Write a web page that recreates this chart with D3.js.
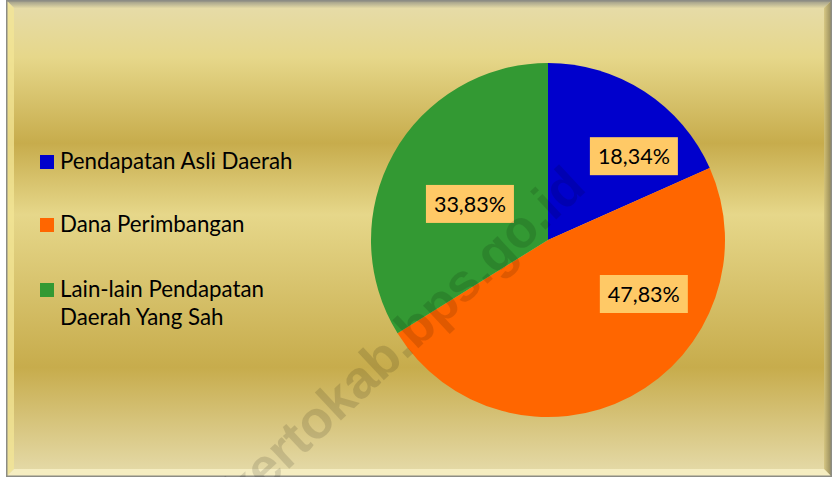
<!DOCTYPE html>
<html>
<head>
<meta charset="utf-8">
<script src="https://cdn.jsdelivr.net/npm/d3@7"></script>
<style>
  html, body { margin: 0; padding: 0; background: #fff; }
  svg { display: block; }
</style>
</head>
<body>
<svg id="chart" width="832" height="477"></svg>
<script>
// data
var categories = ["Pendapatan Asli Daerah", "Dana Perimbangan", "Lain-lain Pendapatan Daerah Yang Sah"];
var legendLines = [["Pendapatan Asli Daerah"], ["Dana Perimbangan"], ["Lain-lain Pendapatan", "Daerah Yang Sah"]];
var shares = [18.34, 47.83, 33.83];
var colors = ["#0000CC", "#FF6600", "#339933"];

// where excel dropped the labels (angle from 12 o'clock in deg, distance from centre)
var labelSpots = [[45.7, 120], [119.4, 110], [294.8, 86]];

var W = 832, H = 477;
var svg = d3.select("#chart");
var defs = svg.append("defs");

// gold preset background
var bg = defs.append("linearGradient").attr("id", "gold")
	.attr("x1", 0).attr("y1", 0).attr("x2", 0).attr("y2", 1);
[[0, "#E6DCAC"], [0.12, "#E6D78A"], [0.30, "#C7AC4C"], [0.45, "#E6D78A"], [0.77, "#C7AC4C"], [1, "#E6DCAC"]]
	.forEach(function (s) { bg.append("stop").attr("offset", s[0]).attr("stop-color", s[1]); });

var topG = defs.append("linearGradient").attr("id", "bevTop")
	.attr("x1", 0).attr("y1", 0).attr("x2", 0).attr("y2", 1);
topG.append("stop").attr("offset", 0).attr("stop-color", "#8a8a80");
topG.append("stop").attr("offset", 1).attr("stop-color", "#e2d8a4");

var rightG = defs.append("linearGradient").attr("id", "bevRight")
	.attr("x1", 0).attr("y1", 0).attr("x2", 1).attr("y2", 0);
rightG.append("stop").attr("offset", 0).attr("stop-color", "#d2c27c");
rightG.append("stop").attr("offset", 1).attr("stop-color", "#7c7248");

var x0 = 6, x1 = W, y0 = 0, y1 = H, b = 8;

svg.append("rect")
	.attr("x", x0).attr("y", y0).attr("width", x1 - x0).attr("height", y1 - y0)
	.attr("fill", "url(#gold)");

// bevel edges
function poly(pts, fill, op) {
	svg.append("path")
		.attr("d", "M" + pts.map(function (p) { return p.join(","); }).join("L") + "Z")
		.attr("fill", fill).attr("opacity", op);
}
poly([[x0, y0], [x1, y0], [x1 - b, y0 + b], [x0 + b, y0 + b]], "url(#bevTop)", 0.9);
poly([[x0, y0], [x0 + b, y0 + b], [x0 + b, y1 - b], [x0, y1]], "#F3E596", 0.75);
poly([[x1, y0], [x1 - b, y0 + b], [x1 - b, y1 - b], [x1, y1]], "url(#bevRight)", 0.8);
poly([[x0, y1], [x0 + b, y1 - b], [x1 - b, y1 - b], [x1, y1]], "#F8F0C6", 0.85);
svg.append("rect")
	.attr("x", x0 + 0.75).attr("y", 0.75).attr("width", x1 - x0 - 1.5).attr("height", H - 1.5)
	.attr("fill", "none").attr("stroke", "#8c8c84").attr("stroke-width", 1.5);

// pie
var cx = 548, cy = 240, r = 177;
var pie = d3.pie().sort(null).value(function (d) { return d; });
var arc = d3.arc().innerRadius(0).outerRadius(r);
var arcs = pie(shares);

var g = svg.append("g").attr("transform", "translate(" + cx + "," + cy + ")");
g.selectAll("path.slice")
	.data(arcs)
	.enter().append("path")
	.attr("class", "slice")
	.attr("d", arc)
	.attr("fill", function (d, i) { return colors[i]; });

var fmt = function (v) { return d3.format(".2f")(v).replace(".", ",") + "%"; };
var fontFam = "Lato, 'Open Sans', sans-serif";

var lab = g.selectAll("g.lab")
	.data(arcs)
	.enter().append("g")
	.attr("class", "lab")
	.attr("transform", function (d, i) {
		var a = labelSpots[i][0] * Math.PI / 180, rr = labelSpots[i][1];
		return "translate(" + (rr * Math.sin(a)) + "," + (-rr * Math.cos(a)) + ")";
	});
lab.append("rect")
	.attr("x", -44).attr("y", -19).attr("width", 88).attr("height", 38)
	.attr("fill", "#FFC966");
lab.append("text")
	.attr("text-anchor", "middle")
	.attr("y", 8)
	.attr("font-family", fontFam)
	.attr("font-size", 21.5)
	.attr("fill", "#000")
	.text(function (d) { return fmt(d.data); });

// watermark
svg.append("text")
	.attr("transform", "translate(588,190) rotate(-43)")
	.attr("text-anchor", "end")
	.attr("font-family", "'Liberation Sans', Arial, sans-serif")
	.attr("font-weight", "bold")
	.attr("font-size", 53)
	.attr("fill", "#000")
	.attr("opacity", 0.12)
	.text("mojokertokab.bps.go.id");

// legend
var rowY = [169, 232, 297];
var leg = svg.append("g");
categories.forEach(function (c, i) {
	leg.append("rect")
		.attr("x", 40).attr("y", rowY[i] - 14).attr("width", 14).attr("height", 14)
		.attr("fill", colors[i]);
	var t = leg.append("text")
		.attr("x", 60).attr("y", rowY[i])
		.attr("font-family", fontFam)
		.attr("font-size", 22.3)
		.attr("fill", "#000");
	legendLines[i].forEach(function (ln, j) {
		t.append("tspan").attr("x", 60).attr("dy", j ? 28 : 0).text(ln);
	});
});
</script>
</body>
</html>
